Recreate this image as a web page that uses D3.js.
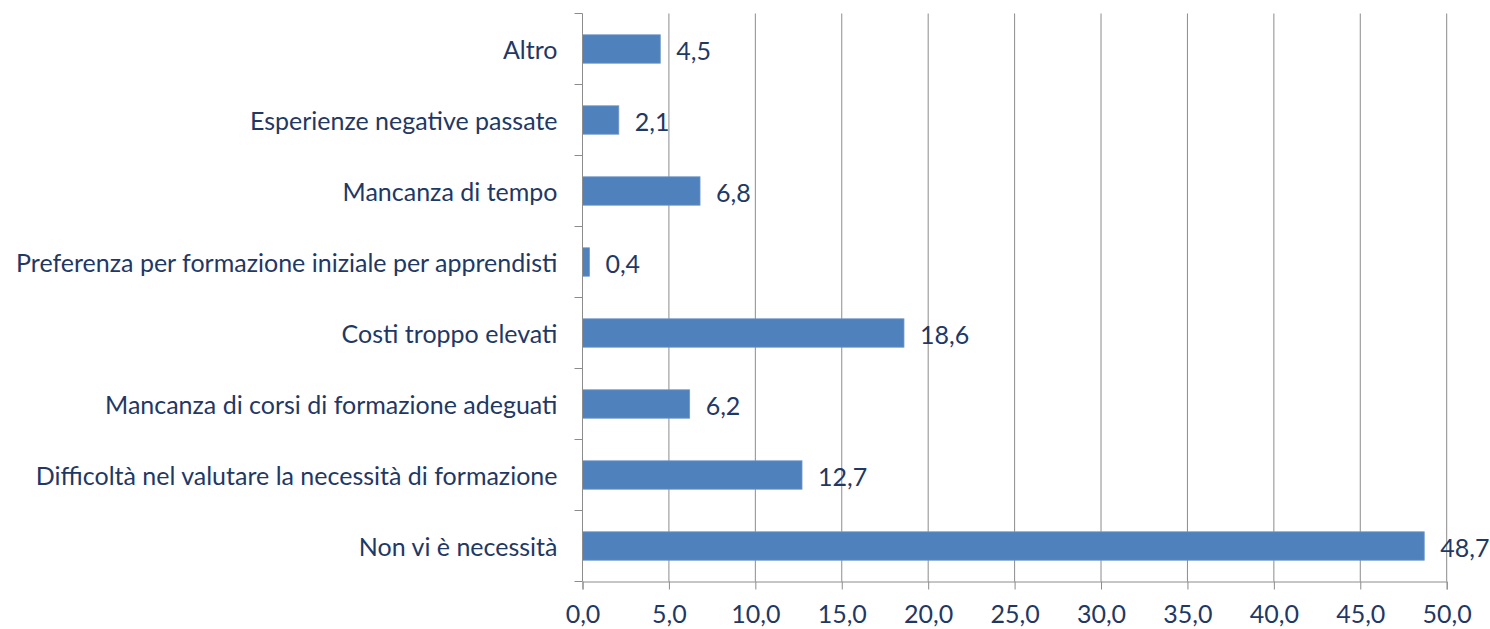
<!DOCTYPE html>
<html><head><meta charset="utf-8">
<script src="https://cdn.jsdelivr.net/npm/d3@7/dist/d3.min.js"></script>
<style>body{margin:0;background:#fff;} text{font-family:Lato,"Open Sans",sans-serif;}</style>
</head><body>
<svg id="chart" width="1490" height="629"></svg>
<script>
const categories = ["Altro","Esperienze negative passate","Mancanza di tempo","Preferenza per formazione iniziale per apprendisti","Costi troppo elevati","Mancanza di corsi di formazione adeguati","Difficoltà nel valutare la necessità di formazione","Non vi è necessità"];
const values = [4.5,2.1,6.8,0.4,18.6,6.2,12.7,48.7];
const xTicks = [0,5,10,15,20,25,30,35,40,45,50];

const svg = d3.select("#chart");
const mLeft = 582.5, mRight = 1446.7, mTop = 13.5, mBottom = 581.5;
const textColor = "#1F3864";
const fs = 25;
const x = d3.scaleLinear().domain([0,50]).range([mLeft,mRight]);
const y = d3.scaleBand().domain(categories).range([mTop,mBottom]).paddingInner(0.6).paddingOuter(0.3);
const fmt = v => d3.format(".1f")(v).replace(".", ",");

// gridlines
svg.append("g").selectAll("line").data(xTicks.slice(1)).join("line")
  .attr("x1", d=>x(d)).attr("x2", d=>x(d)).attr("y1", mTop).attr("y2", mBottom)
  .attr("stroke", "#8c8c8c").attr("stroke-width", 1);

// bars
svg.append("g").selectAll("rect").data(values).join("rect")
  .attr("x", mLeft).attr("y", (d,i)=>y(categories[i]))
  .attr("width", d=>x(d)-mLeft).attr("height", y.bandwidth())
  .attr("fill", "#4F81BD").attr("stroke","#6f98c9").attr("stroke-width",0.8);

// x axis
const xAxis = svg.append("g").attr("transform", `translate(0,${mBottom})`)
  .call(d3.axisBottom(x).tickValues(xTicks).tickFormat(fmt).tickSize(8).tickPadding(16));
xAxis.select(".domain").attr("stroke", "#8c8c8c");
xAxis.selectAll(".tick line").attr("stroke", "#8c8c8c");
xAxis.selectAll("text").attr("fill", textColor).style("font-size", fs+"px").style("font-family","Lato");

// y axis with ticks at band boundaries
const yb = d3.scaleLinear().domain([0,8]).range([mTop,mBottom]);
svg.append("line").attr("x1", mLeft).attr("x2", mLeft).attr("y1", mTop).attr("y2", mBottom).attr("stroke","#8c8c8c");
svg.append("g").selectAll("line").data(d3.range(9)).join("line")
  .attr("x1", mLeft-8).attr("x2", mLeft).attr("y1", d=>yb(d)).attr("y2", d=>yb(d)).attr("stroke","#8c8c8c");

// category labels
svg.append("g").selectAll("text").data(categories).join("text")
  .attr("x", mLeft-25).attr("y", d=>y(d)+y.bandwidth()/2)
  .attr("text-anchor","end").attr("dominant-baseline","central")
  .attr("fill", textColor).style("font-size", fs+"px").text(d=>d);

// value labels
svg.append("g").selectAll("text").data(values).join("text")
  .attr("x", d=>x(d)+16).attr("y", (d,i)=>y(categories[i])+y.bandwidth()/2+1)
  .attr("dominant-baseline","central")
  .attr("fill", textColor).style("font-size", fs+"px").text(d=>fmt(d));
</script>
</body></html>
